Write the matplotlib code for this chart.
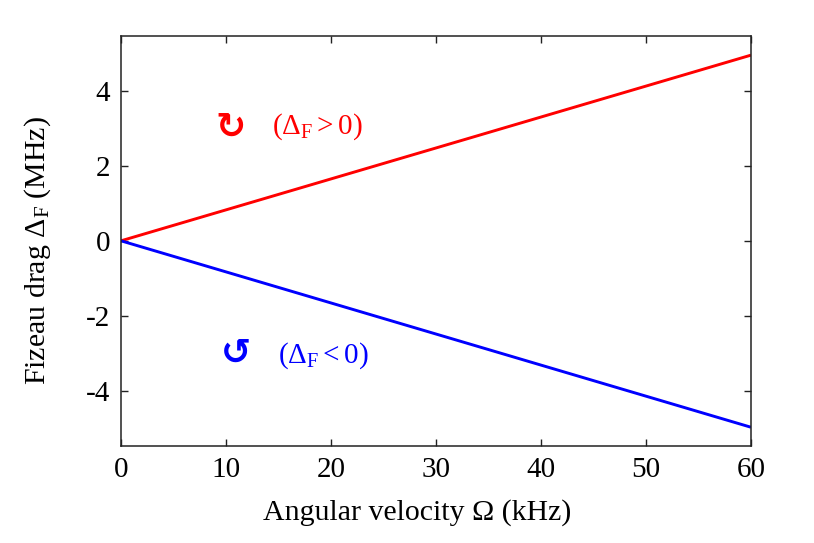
import matplotlib
import matplotlib.pyplot as plt

matplotlib.use("Agg")

plt.rcParams["font.family"] = ["Liberation Serif", "DejaVu Serif"]
plt.rcParams["mathtext.fontset"] = "custom"
plt.rcParams["mathtext.rm"] = "Liberation Serif"
plt.rcParams["mathtext.it"] = "Liberation Serif:italic"

# data: Fizeau drag vs angular velocity
omega_khz = [0, 60]
drag_cw = [0, 4.95]
drag_ccw = [0, -4.97]

x_ticks = [0, 10, 20, 30, 40, 50, 60]
y_ticks = [-4, -2, 0, 2, 4]
y_tick_labels = ["-4", "-2", "0", "2", "4"]

fig = plt.figure(figsize=(8.14, 5.43), dpi=100)
ax = fig.add_axes([121 / 814, 1 - 446 / 543, 630 / 814, 410 / 543])

ax.plot(omega_khz, drag_cw, color="#ff0000", lw=2.1, solid_capstyle="butt")
ax.plot(omega_khz, drag_ccw, color="#0000ff", lw=2.1, solid_capstyle="butt")

ax.set_xlim(0, 60)
ax.set_ylim(-5.47, 5.46)
ax.set_xticks(x_ticks)
ax.set_yticks(y_ticks)
ax.set_yticklabels(y_tick_labels)
ax.tick_params(direction="in", length=5, width=1.0, top=True, right=True,
               labelsize=21, pad=8, color="#222222")
for s in ax.spines.values():
    s.set_linewidth(1.1)
    s.set_color("#222222")

ax.set_xlabel("Angular velocity Ω (kHz)", fontsize=21.5)
ax.set_ylabel(r"Fizeau drag $\Delta_\mathrm{F}$ (MHz)", fontsize=21.5)
ax.xaxis.set_label_coords(0.47, -0.163)
ax.yaxis.set_label_coords(-0.133, 0.476)
ax.xaxis.label.set_va("center")
ax.yaxis.label.set_va("center")

# rotation annotations
ax.text(10.4, 3.0, "↻", color="#ff0000", fontsize=26, fontweight="bold",
        family=["DejaVu Sans"], ha="center", va="center")
ax.text(14.4, 3.05, r"($\Delta_\mathrm{F} > 0$)", color="#ff0000", fontsize=21,
        ha="left", va="center")
ax.text(11.0, -3.0, "↺", color="#0000ff", fontsize=26, fontweight="bold",
        family=["DejaVu Sans"], ha="center", va="center")
ax.text(14.95, -3.05, r"($\Delta_\mathrm{F} < 0$)", color="#0000ff", fontsize=21,
        ha="left", va="center")

fig.savefig("out.png", dpi=100)
